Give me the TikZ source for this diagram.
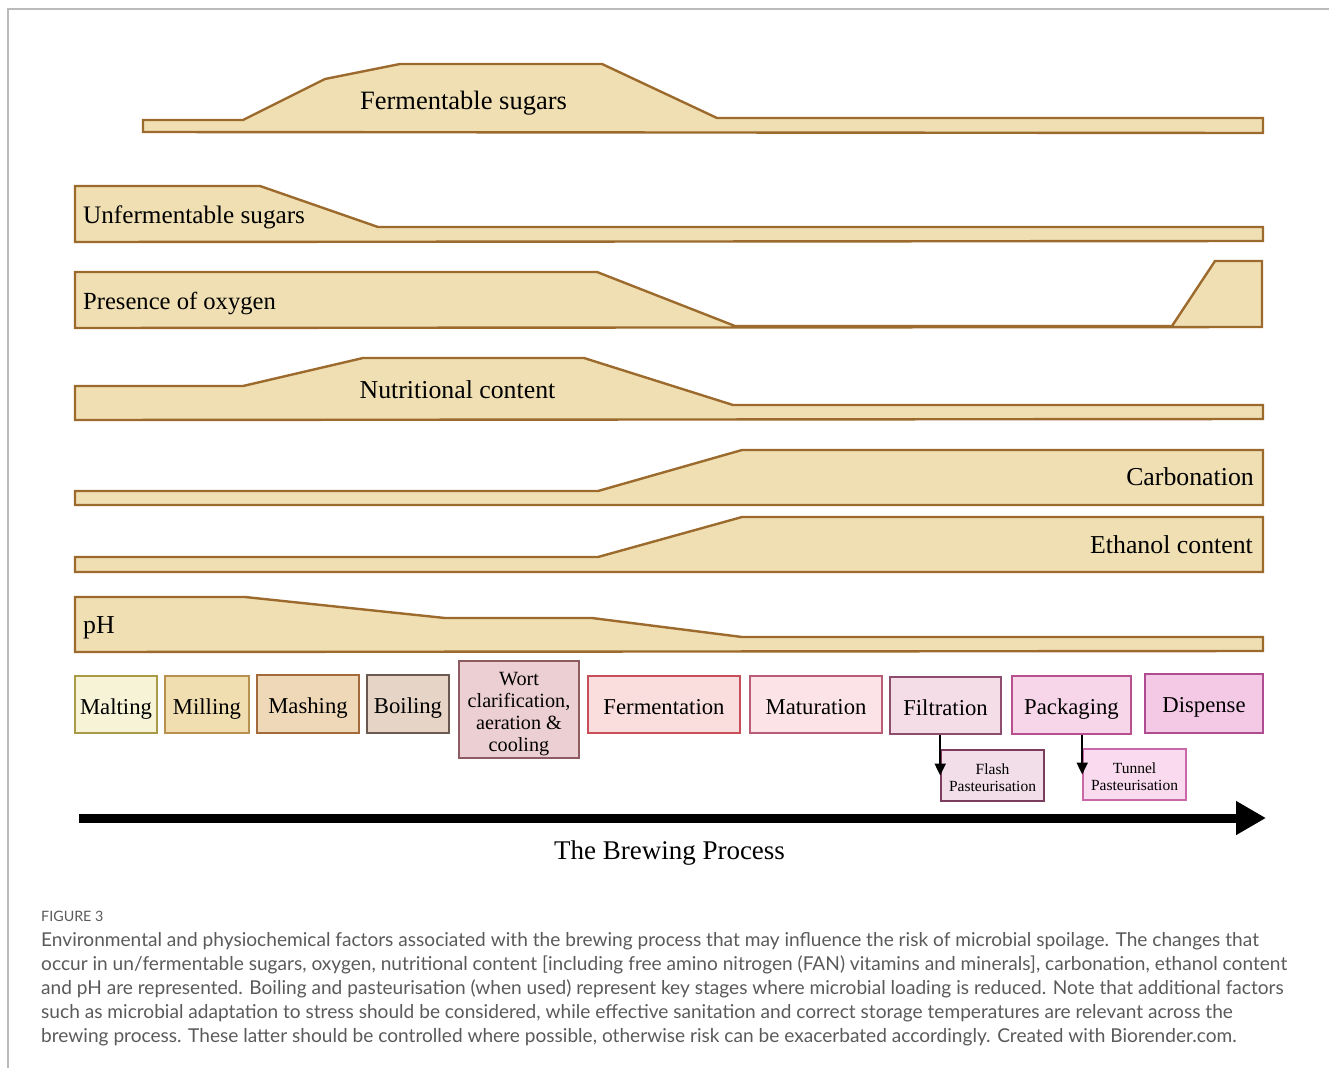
\documentclass[tikz,border=0pt]{standalone}
\usepackage{fontspec}
\setmainfont{Liberation Serif}
\newfontfamily\capfont{Lato}
\usetikzlibrary{arrows.meta}
\definecolor{prof}{HTML}{EFDFB3}
\definecolor{profline}{HTML}{9C6A2C}
\definecolor{frameline}{HTML}{BBBBBB}
\definecolor{captext}{HTML}{5A5A5A}
\definecolor{fMalt}{HTML}{F6F3D6}\definecolor{dMalt}{HTML}{A99A45}
\definecolor{fMill}{HTML}{F1DEB0}\definecolor{dMill}{HTML}{B89050}
\definecolor{fMash}{HTML}{EFD8B8}\definecolor{dMash}{HTML}{A56A3C}
\definecolor{fBoil}{HTML}{E6D4C6}\definecolor{dBoil}{HTML}{6B5850}
\definecolor{fWort}{HTML}{ECCFD2}\definecolor{dWort}{HTML}{8C5C60}
\definecolor{fFerm}{HTML}{F9DEDD}\definecolor{dFerm}{HTML}{C84E5A}
\definecolor{fMatu}{HTML}{FBE3E8}\definecolor{dMatu}{HTML}{B85C78}
\definecolor{fFilt}{HTML}{F4DDE7}\definecolor{dFilt}{HTML}{8E4C6E}
\definecolor{fPack}{HTML}{F7D6EA}\definecolor{dPack}{HTML}{B8508E}
\definecolor{fDisp}{HTML}{F3C9E5}\definecolor{dDisp}{HTML}{B04C92}
\definecolor{fFlash}{HTML}{F2DEE8}\definecolor{dFlash}{HTML}{7C3C5E}
\definecolor{fTun}{HTML}{F9DAEE}\definecolor{dTun}{HTML}{C868A8}
\tikzset{
  profile/.style={fill=prof, draw=profline, line width=2.4pt, line join=miter},
  plabel/.style={font=\fontsize{25.8}{30}\selectfont, inner sep=0pt},
  stage/.style={line width=1.6pt, font=\fontsize{22.7}{26}\selectfont, inner sep=0pt, align=center, text height=19pt, text depth=0pt},
  boxonly/.style={line width=1.6pt, inner sep=0pt},
  small/.style={line width=1.6pt, inner sep=0pt, minimum width=103pt, minimum height=51pt},
  smalltext/.style={font=\fontsize{15.5}{17.5}\selectfont, inner sep=0pt, align=center},
  down/.style={line width=2pt, -{Triangle[length=12pt,width=11pt]}},
  caption/.style={font=\capfont\fontsize{19.1}{24}\selectfont, text=captext, inner sep=0pt, anchor=base west}
}
\begin{document}
\begin{tikzpicture}[x=1pt,y=-1pt]
\useasboundingbox (0,0) rectangle (1329,1068);
% frame
\draw[frameline, line width=1.5pt] (8,1068) -- (8,9) -- (1329,9);

% profiles
\draw[profile] (143,120) -- (243,120) -- (325,79) -- (400,64) -- (602,64) -- (717,118) -- (1263,118) -- (1263,133) -- (143,132) -- cycle;
\node[plabel, font=\fontsize{26.5}{30}\selectfont, anchor=base] (lfs) at (463.5,109) {Fermentable sugars};

\draw[profile] (75,186) -- (260,186) -- (378,227) -- (1263,227) -- (1263,241) -- (75,242) -- cycle;
\node[plabel, font=\fontsize{25.2}{30}\selectfont, anchor=base west] (lus) at (83,223) {Unfermentable sugars};

\draw[profile] (75,272) -- (597,272) -- (735,326) -- (1172,326) -- (1215,261) -- (1262,261) -- (1262,327) -- (75,328) -- cycle;
\node[plabel, font=\fontsize{24.6}{30}\selectfont, anchor=base west] (lox) at (83,309) {Presence of oxygen};

\draw[profile] (75,386) -- (243,386) -- (363,358) -- (584,358) -- (733,405) -- (1263,405) -- (1263,419) -- (75,420) -- cycle;
\node[plabel, anchor=base] (lnu) at (457.5,398) {Nutritional content};

\draw[profile] (75,491) -- (598,491) -- (742,450) -- (1263,450) -- (1263,505) -- (75,505) -- cycle;
\node[plabel, anchor=base east] (lca) at (1254,485) {Carbonation};

\draw[profile] (75,557) -- (598,557) -- (742,517) -- (1263,517) -- (1263,572) -- (75,572) -- cycle;
\node[plabel, anchor=base east] (let) at (1253,553) {Ethanol content};

\draw[profile] (75,597) -- (245,597) -- (445,618) -- (592,618) -- (742,637) -- (1263,637) -- (1263,651) -- (75,652) -- cycle;
\node[plabel, anchor=base west] (lph) at (83,633) {pH};

% stages
\node[stage, fill=fMalt, draw=dMalt, minimum width=82pt, minimum height=57pt] (malt) at (116,704.5) {Malting};
\node[stage, fill=fMill, draw=dMill, minimum width=84pt, minimum height=57pt] (mill) at (207,704.5) {Milling};
\node[stage, fill=fMash, draw=dMash, minimum width=102pt, minimum height=58pt] (mash) at (308,704) {Mashing};
\node[stage, fill=fBoil, draw=dBoil, minimum width=82pt, minimum height=58pt] (boil) at (408,704) {Boiling};
\node[boxonly, fill=fWort, draw=dWort, minimum width=120pt, minimum height=97pt] (wort) at (519,709.5) {};
\node[font=\fontsize{20.2}{22}\selectfont, inner sep=0pt, align=center] (worttext) at (519,714) {Wort\\clarification,\\aeration \&\\cooling};
\node[stage, fill=fFerm, draw=dFerm, minimum width=152pt, minimum height=57pt] (ferm) at (664,704.5) {Fermentation};
\node[stage, fill=fMatu, draw=dMatu, minimum width=132pt, minimum height=57pt] (matu) at (816,704.5) {Maturation};
\node[stage, fill=fFilt, draw=dFilt, minimum width=111pt, minimum height=57pt] (filt) at (945.5,705.5) {Filtration};
\node[stage, fill=fPack, draw=dPack, minimum width=119pt, minimum height=58pt] (pack) at (1071.5,705) {Packaging};
\node[stage, fill=fDisp, draw=dDisp, minimum width=118pt, minimum height=59pt, text height=18pt] (disp) at (1204,703.5) {Dispense};

\node[small, fill=fFlash, draw=dFlash] (flash) at (992.5,775.5) {};
\node[smalltext] (flasht) at (992.5,777.5) {Flash\\Pasteurisation};
\node[small, fill=fTun, draw=dTun] (tun) at (1134.5,774.5) {};
\node[smalltext] (tunt) at (1134.5,776.5) {Tunnel\\Pasteurisation};

\draw[down] (filt.south -| flash.west) -- (flash.west);
\draw[down] (pack.south -| tun.west) -- (tun.west);

% main arrow
\coordinate (as) at (79,818);
\coordinate (ae) at (1266,818);
\draw[line width=9pt, -{Triangle[length=30pt,width=32pt]}] (as) -- (ae);
\node[font=\fontsize{27}{32}\selectfont, inner sep=0pt, anchor=base] (proc) at (669.5,859) {The Brewing Process};

% caption
\node[caption, font=\capfont\fontsize{14.3}{16}\selectfont] (fig) at (41,921) {FIGURE 3};
\node[caption] (c1) at (41,946) {Environmental and physiochemical factors associated with the brewing process that may influence the risk of microbial spoilage. The changes that};
\node[caption] (c2) at (41,970) {occur in un/fermentable sugars, oxygen, nutritional content [including free amino nitrogen (FAN) vitamins and minerals], carbonation, ethanol content};
\node[caption] (c3) at (41,994) {and pH are represented. Boiling and pasteurisation (when used) represent key stages where microbial loading is reduced. Note that additional factors};
\node[caption] (c4) at (41,1018) {such as microbial adaptation to stress should be considered, while effective sanitation and correct storage temperatures are relevant across the};
\node[caption] (c5) at (41,1042) {brewing process. These latter should be controlled where possible, otherwise risk can be exacerbated accordingly. Created with Biorender.com.};
\end{tikzpicture}
\end{document}
